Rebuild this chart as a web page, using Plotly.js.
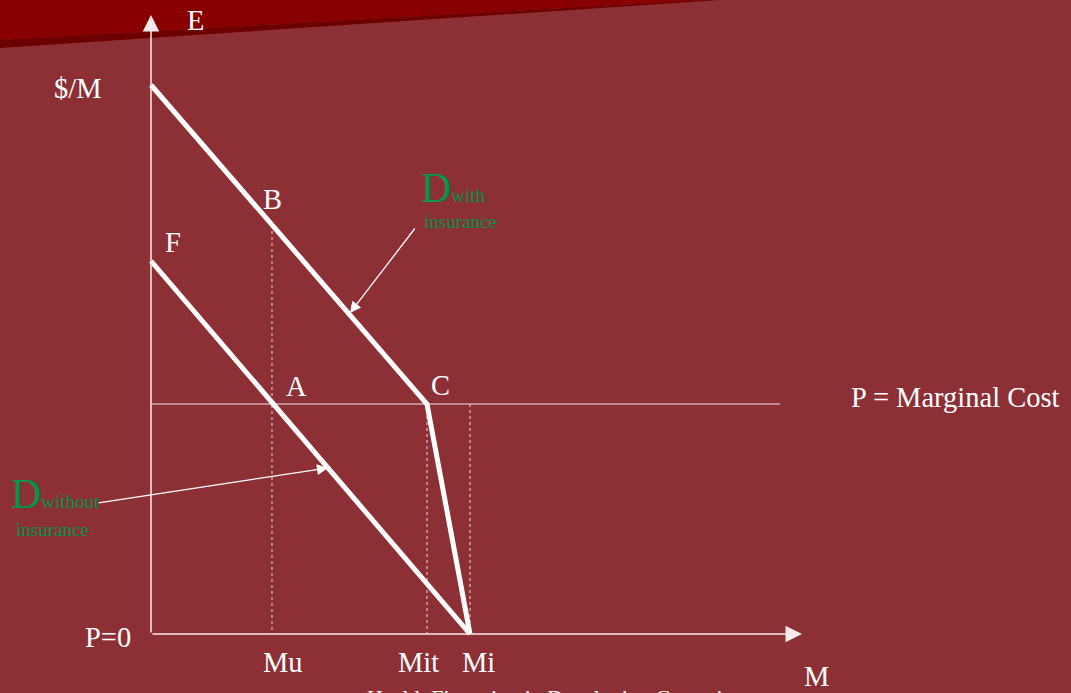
<!DOCTYPE html>
<html>
<head>
<meta charset="utf-8">
<script src="https://cdn.plot.ly/plotly-3.0.1.min.js"></script>
<style>html,body{margin:0;padding:0;background:#8C3036;overflow:hidden}</style>
</head>
<body>
<div id="chart" style="width:1071px;height:693px"></div>
<script>
// ---- data (arbitrary diagram units: quantity M, price $/M) ----
const quantityLabels = ['Mu', 'Mit', 'Mi'];
const quantityValues = [12.1, 27.6, 31.9];
const marginalCost = 23.0;
const withInsuranceQ = [0, 27.6, 31.9];
const withInsuranceP = [54.9, 23.0, 0];
const withoutInsuranceQ = [0, 31.9];
const withoutInsuranceP = [37.3, 0];
const pointLabels = ['B', 'F', 'A', 'C'];
const pointQ = [12.1, 0, 12.1, 27.6];
const pointP = [40.9, 37.3, 23.0, 23.0];
const dottedTopP = [40.9, 23.0, 23.0];
const axisMaxQ = 65.1;
const axisMaxP = 61.9;
const mcLineEndQ = 62.9;

// ---- layout helpers (pixel -> diagram units) ----
const ox = 151, oy = 634, s = 10;
const X = px => (px - ox) / s;
const Y = py => (oy - py) / s;

const serif = 'Liberation Serif, Times New Roman, serif';
const white = '#FFFFFF';
const green = '#00964B';
const fontSize = 28.5;

const traces = [];
// marginal cost line
traces.push({x: [0, mcLineEndQ], y: [marginalCost, marginalCost], mode: 'lines',
  line: {color: '#F4E6E6', width: 1.2}, hoverinfo: 'skip'});
// dotted verticals
quantityValues.forEach((q, i) => {
  traces.push({x: [q, q], y: [dottedTopP[i], 0], mode: 'lines',
    line: {color: 'rgba(240,210,210,0.85)', width: 1.2, dash: 'dot'}, hoverinfo: 'skip'});
});
// demand curves
traces.push({x: withInsuranceQ, y: withInsuranceP, mode: 'lines',
  line: {color: white, width: 5}, hoverinfo: 'skip'});
traces.push({x: withoutInsuranceQ, y: withoutInsuranceP, mode: 'lines',
  line: {color: white, width: 5}, hoverinfo: 'skip'});

const ann = [];
function txt(x, y, text, opts) {
  ann.push(Object.assign({x: x, y: y, xref: 'x', yref: 'y', text: text, showarrow: false,
    font: {family: serif, size: fontSize, color: white}, xanchor: 'center', yanchor: 'middle'}, opts || {}));
}
// axes arrows
ann.push({x: axisMaxQ, y: 0, ax: 0, ay: 0, xref: 'x', yref: 'y', axref: 'x', ayref: 'y',
  showarrow: true, arrowhead: 2, arrowsize: 2.2, arrowwidth: 1.5, arrowcolor: '#F6EAEA', text: ''});
ann.push({x: 0, y: axisMaxP, ax: 0, ay: 0, xref: 'x', yref: 'y', axref: 'x', ayref: 'y',
  showarrow: true, arrowhead: 2, arrowsize: 2.2, arrowwidth: 1.5, arrowcolor: '#F6EAEA', text: ''});
// pointer arrows
ann.push({x: 19.9, y: 32.1, ax: X(416), ay: Y(227), xref: 'x', yref: 'y', axref: 'x', ayref: 'y',
  showarrow: true, arrowhead: 2, arrowsize: 1.7, arrowwidth: 1.3, arrowcolor: white, text: ''});
ann.push({x: 17.7, y: 16.6, ax: X(97), ay: Y(503), xref: 'x', yref: 'y', axref: 'x', ayref: 'y',
  showarrow: true, arrowhead: 2, arrowsize: 1.7, arrowwidth: 1.3, arrowcolor: white, text: ''});

// axis texts
txt(X(195), Y(20), 'E');
txt(X(78), Y(88), '$/M');
txt(X(108), Y(637), 'P=0');
txt(X(816), Y(676), 'M');
txt(X(849), Y(397), 'P = Marginal Cost', {xanchor: 'left'});
// quantity labels
const qLabelShift = [11, -9, 8];
quantityLabels.forEach((l, i) => txt(quantityValues[i], Y(662), l, {xshift: qLabelShift[i]}));
// point labels
const pShiftX = [0, 22, 24, 13];
const pShiftY = [26, 19, 18, 19];
pointLabels.forEach((l, i) => txt(pointQ[i], pointP[i], l, {xshift: pShiftX[i], yshift: pShiftY[i]}));

// green demand labels
const big = '<span style="font-size:42px">D</span>';
txt(X(419), Y(188), big + 'with', {xanchor: 'left', font: {family: serif, size: 19, color: green}});
txt(X(422), Y(221), 'insurance', {xanchor: 'left', font: {family: serif, size: 19, color: green}});
txt(X(9), Y(494), big + 'without', {xanchor: 'left', font: {family: serif, size: 19, color: green}});
txt(X(14), Y(529), 'insurance', {xanchor: 'left', font: {family: serif, size: 19, color: green}});

// footer (cut off at bottom, as in the source slide)
ann.push({x: 365 / 1071, y: 1 - 683 / 693, xref: 'paper', yref: 'paper', xanchor: 'left', yanchor: 'top',
  text: 'Health Financing in Developing Countries', showarrow: false,
  font: {family: serif, size: 22, color: white}});

const layout = {
  width: 1071, height: 693, autosize: false,
  margin: {l: 0, r: 0, t: 0, b: 0, pad: 0},
  paper_bgcolor: '#8C3036', plot_bgcolor: '#8C3036',
  showlegend: false,
  xaxis: {range: [X(0), X(1071)], visible: false, fixedrange: true},
  yaxis: {range: [Y(693), Y(0)], visible: false, fixedrange: true},
  shapes: [
    {type: 'path', xref: 'paper', yref: 'paper', layer: 'below', line: {width: 0},
     fillcolor: '#880000', path: 'M 0 1 L 0.6583 1 L 0 0.9423 Z'},
    {type: 'path', xref: 'paper', yref: 'paper', layer: 'below', line: {width: 0},
     fillcolor: '#6C0000', path: 'M 0 0.9423 L 0.6583 1 L 0.6723 1 L 0 0.9307 Z'}
  ],
  annotations: ann
};
Plotly.newPlot('chart', traces, layout, {staticPlot: true, displayModeBar: false});
</script>
</body>
</html>
